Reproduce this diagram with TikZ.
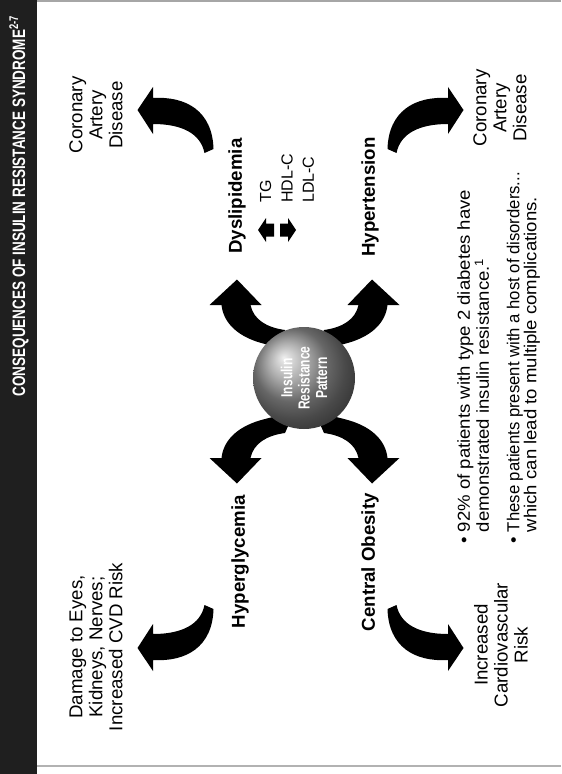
\documentclass[tikz,border=0pt]{standalone}
\usepackage{fontspec}
\setmainfont{Liberation Sans}
\newfontfamily\condfont[FakeStretch=0.75]{Liberation Sans}
\newfontfamily\widefont[FakeStretch=1.07]{Liberation Sans}
\begin{document}
\begin{tikzpicture}[x={(0.75pt,0)},y={(0,-0.75pt)},
  outtext/.style={font=\fontsize{14}{15}\selectfont, align=center, rotate=90, inner sep=0pt},
  boldlab/.style={font=\fontsize{14}{16}\selectfont\bfseries, rotate=90, inner sep=0pt},
  lipid/.style={font=\fontsize{12}{16}\selectfont, align=left, rotate=90, inner sep=0pt},
  bultext/.style={font=\widefont\fontsize{13}{12.75}\selectfont, align=left, rotate=90, inner sep=0pt},
  blockarrow/.style={fill=black}
]
\useasboundingbox (0,0) rectangle (561,774);
% title bar and frame
\fill[black!88] (0,0) rectangle (37,774);
\draw[gray!70, line width=1.5] (37,1.5) -- (561,1.5);
\draw[gray!60, line width=1.5] (37,766) -- (561,766);
\node[rotate=90, inner sep=0pt, text=white, font=\condfont\fontsize{13.5}{15}\selectfont\bfseries] (title) at (19,206)
  {CONSEQUENCES OF INSULIN RESISTANCE SYNDROME\textsuperscript{2-7}};

% outer curved arrows
\coordinate (oc) at (300.5,379);
\foreach \sx/\sy in {1/1,-1/1,1/-1,-1/-1}{
  \fill[blockarrow, shift={(oc)}, xscale=\sx, yscale=\sy]
    (87,-230) .. controls (88,-268) and (114.5,-283) .. (147.5,-281)
    -- (147.5,-292) -- (163,-269) -- (147.5,-245) -- (147.5,-255)
    .. controls (119.5,-255) and (100,-246) .. (96,-226) -- cycle;
}

% inner curved arrows
\coordinate (ic) at (304.5,381.5);
\foreach \sx/\sy in {1/1,-1/1,1/-1,-1/-1}{
  \fill[blockarrow, shift={(ic)}, xscale=\sx, yscale=\sy]
    (-83,-76.5) -- (-95,-76.5) -- (-67.5,-102) -- (-43,-76.5) -- (-54,-76.5)
    .. controls (-51,-62) and (-38,-54) .. (-19.5,-51.5) -- (-10,-30) -- (-39.5,-37.5)
    .. controls (-66,-44) and (-81,-58) .. (-83,-76.5) -- cycle;
}

% central sphere
\node[circle, minimum size=76.5pt, inner sep=0pt, shading=ball, ball color=gray!85] (irs) at (304,378) {};
\node[rotate=90, align=center, text=white, inner sep=0pt,
      font=\condfont\fontsize{12}{13}\selectfont\bfseries] (irstext) at (irs.center) {Insulin\\Resistance\\Pattern};

% labels around the sphere
\node[boldlab, anchor=west] (dys) at (237,254) {Dyslipidemia};
\node[boldlab, anchor=west] (hyp) at (370,257) {Hypertension};
\node[boldlab, anchor=east] (hgl) at (240,495) {Hyperglycemia};
\node[boldlab, anchor=east] (cob) at (370,493) {Central Obesity};

% lipid list with small arrows
\node[lipid, anchor=west] (lipids) at (287,203) {TG\\HDL-C\\LDL-C};
\fill (258,230) -- (266,218) -- (266,223.5) -- (274,223.5) -- (274,236.5) -- (266,236.5) -- (266,242) -- cycle;
\fill (296,230) -- (288,218) -- (288,223.5) -- (280,223.5) -- (280,236.5) -- (288,236.5) -- (288,242) -- cycle;

% outcome texts
\node[outtext] (tltext) at (96,115) {Coronary\\Artery\\Disease};
\node[outtext] (trtext) at (500,108) {Coronary\\Artery\\Disease};
\node[outtext] (bltext) at (96,647) {Damage to Eyes,\\Kidneys, Nerves;\\Increased CVD Risk};
\node[outtext] (brtext) at (501,645) {Increased\\Cardiovascular\\Risk};

% bullets
\node[bultext, anchor=north west] (bullets) at (457,544)
  {\textbullet\ 92\% of patients with type 2 diabetes have\\
   \phantom{\textbullet\ }demonstrated insulin resistance.\textsuperscript{1}\\[10pt]
   \textbullet\ \scalebox{0.9}[1]{These patients present with a host of disorders...}\\
   \phantom{\textbullet\ }which can lead to multiple complications.};
\end{tikzpicture}
\end{document}
